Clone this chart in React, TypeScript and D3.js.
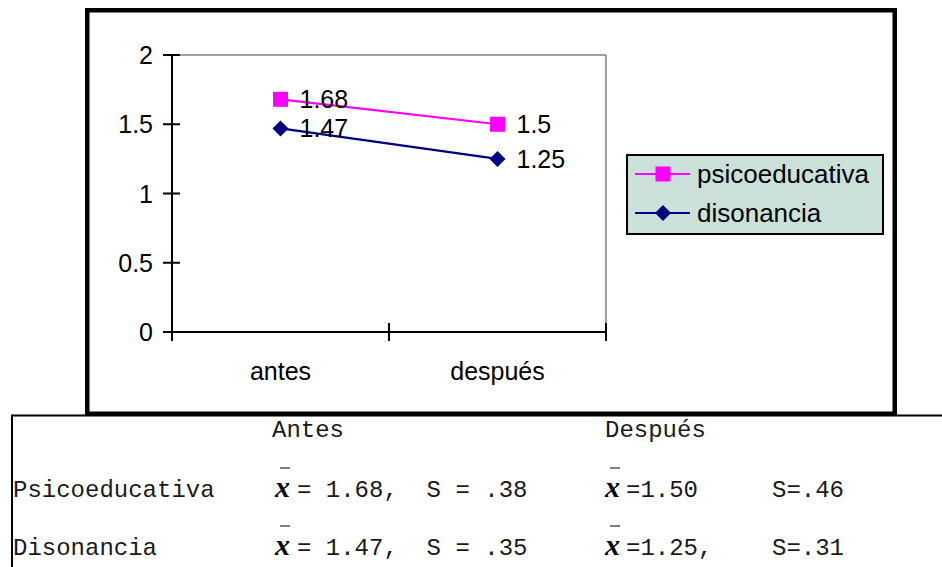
import React from "react";
import * as d3 from "d3";

const categories = ["antes", "después"];
const seriesNames = ["psicoeducativa", "disonancia"];
const psicoValues = [1.68, 1.5];
const disonValues = [1.47, 1.25];
const yTicks = [0, 0.5, 1, 1.5, 2];

const tableHeaders = ["Antes", "Después"];
const tableRows = ["Psicoeducativa", "Disonancia"];
const meanAntes = [1.68, 1.47];
const sdAntes = [0.38, 0.35];
const meanDespues = [1.5, 1.25];
const sdDespues = [0.46, 0.31];
const despuesSuffix = ["", ","];

const W = 942;
const H = 567;
const PINK = "#ff00ff";
const NAVY = "#000080";
const SANS = "'Liberation Sans', Arial, sans-serif";
const MONO = "'Liberation Mono', 'Courier New', monospace";
const SERIF = "'Liberation Serif', 'Times New Roman', serif";
const MONO_FILL = "#1a1a1a";

const plot = { left: 172, right: 606, top: 55, bottom: 332 };

const sdText = (v: number) => v.toFixed(2).replace(/^0/, "");

export default function App() {
  const xBand = d3
    .scaleBand<string>()
    .domain(categories)
    .range([plot.left, plot.right])
    .paddingInner(0)
    .paddingOuter(0);
  const xPoint = d3
    .scalePoint<string>()
    .domain(categories)
    .range([plot.left, plot.right])
    .padding(0.5);
  const y = d3.scaleLinear().domain([0, 2]).range([plot.bottom, plot.top]);

  const series = [
    { name: seriesNames[0], values: psicoValues, color: PINK, marker: "square" },
    { name: seriesNames[1], values: disonValues, color: NAVY, marker: "diamond" },
  ];

  const line = d3
    .line<number>()
    .x((_, i) => xPoint(categories[i]) as number)
    .y((d) => y(d));

  const xTickPos = [
    ...categories.map((c) => xBand(c) as number),
    plot.right,
  ];

  const marker = (kind: string, cx: number, cy: number, color: string, key?: any) =>
    kind === "square" ? (
      <rect key={key} x={cx - 7.5} y={cy - 7.5} width={15} height={15} fill={color} />
    ) : (
      <path
        key={key}
        d={`M${cx},${cy - 8} L${cx + 8},${cy} L${cx},${cy + 8} L${cx - 8},${cy} Z`}
        fill={color}
      />
    );

  const rowBase = [497, 555];

  return (
    <svg
      width={W}
      height={H}
      viewBox={`0 0 ${W} ${H}`}
      style={{ position: "absolute", left: 0, top: 0, background: "#fff" }}
    >
      <rect x={0} y={0} width={W} height={H} fill="#fff" />

      {/* plot area outline (top and right in gray) */}
      <line x1={plot.left} x2={plot.right} y1={plot.top} y2={plot.top} stroke="#808080" strokeWidth={1.5} />
      <line x1={plot.right} x2={plot.right} y1={plot.top} y2={plot.bottom} stroke="#808080" strokeWidth={1.5} />

      {/* y axis */}
      <line x1={plot.left} x2={plot.left} y1={plot.top} y2={plot.bottom} stroke="#000" strokeWidth={2} />
      {yTicks.map((t) => (
        <g key={t}>
          <line x1={plot.left - 9} x2={plot.left + 8} y1={y(t)} y2={y(t)} stroke="#000" strokeWidth={2} />
          <text
            x={153}
            y={y(t)}
            dy="0.36em"
            textAnchor="end"
            fontFamily={SANS}
            fontSize={25}
            fill="#000"
          >
            {String(t)}
          </text>
        </g>
      ))}

      {/* x axis */}
      <line x1={plot.left - 9} x2={plot.right} y1={plot.bottom} y2={plot.bottom} stroke="#000" strokeWidth={2} />
      {xTickPos.map((p, i) => (
        <line key={i} x1={p} x2={p} y1={plot.bottom - 9} y2={plot.bottom + 9} stroke="#000" strokeWidth={2} />
      ))}
      {categories.map((c) => (
        <text
          key={c}
          x={xPoint(c) as number}
          y={380}
          textAnchor="middle"
          fontFamily={SANS}
          fontSize={25}
          fill="#000"
        >
          {c}
        </text>
      ))}

      {/* series lines and markers */}
      {series.map((s) => (
        <g key={s.name}>
          <path d={line(s.values) || ""} fill="none" stroke={s.color} strokeWidth={2.2} />
          {s.values.map((v, i) =>
            marker(s.marker, xPoint(categories[i]) as number, y(v), s.color, i)
          )}
        </g>
      ))}
      {series.map((s) =>
        s.values.map((v, i) => (
          <text
            key={s.name + i}
            x={(xPoint(categories[i]) as number) + 19}
            y={y(v)}
            dy="0.36em"
            fontFamily={SANS}
            fontSize={25}
            fill="#000"
          >
            {String(v)}
          </text>
        ))
      )}

      {/* legend */}
      <rect x={627} y={155} width={256} height={79} fill="#cae0d8" stroke="#000" strokeWidth={2} />
      {series.map((s, i) => {
        const ly = 174 + i * 39;
        return (
          <g key={s.name}>
            <line x1={635} x2={690} y1={ly} y2={ly} stroke={s.color} strokeWidth={2.2} />
            {marker(s.marker, 663, ly, s.color)}
            <text x={697} y={ly} dy="0.36em" fontFamily={SANS} fontSize={26} fill="#000">
              {s.name}
            </text>
          </g>
        );
      })}

      {/* outer chart frame */}
      <rect x={87.25} y={10.25} width={807.5} height={403.5} fill="none" stroke="#000" strokeWidth={4.5} />

      {/* statistics table */}
      <line x1={11} x2={W} y1={415.5} y2={415.5} stroke="#000" strokeWidth={2} />
      <line x1={12} x2={12} y1={415} y2={H} stroke="#000" strokeWidth={2} />

      <text x={272} y={437} fontFamily={MONO} fontSize={24} fill={MONO_FILL}>
        {tableHeaders[0]}
      </text>
      <text x={605} y={437} fontFamily={MONO} fontSize={24} fill={MONO_FILL}>
        {tableHeaders[1]}
      </text>

      {tableRows.map((r, i) => {
        const b = rowBase[i];
        return (
          <g key={r}>
            <text x={13} y={b} fontFamily={MONO} fontSize={24} fill={MONO_FILL}>
              {r}
            </text>

            <line x1={280} x2={290} y1={b - 29} y2={b - 29} stroke="#000" strokeWidth={1} />
            <text x={275} y={b} fontFamily={SERIF} fontStyle="italic" fontWeight="bold" fontSize={30} fill="#000">
              x
            </text>
            <text x={297} y={b} fontFamily={MONO} fontSize={24} fill={MONO_FILL} style={{ whiteSpace: "pre" }}>
              {`= ${meanAntes[i].toFixed(2)},  S = ${sdText(sdAntes[i])}`}
            </text>

            <line x1={610} x2={620} y1={b - 29} y2={b - 29} stroke="#000" strokeWidth={1} />
            <text x={605} y={b} fontFamily={SERIF} fontStyle="italic" fontWeight="bold" fontSize={30} fill="#000">
              x
            </text>
            <text x={626} y={b} fontFamily={MONO} fontSize={24} fill={MONO_FILL} style={{ whiteSpace: "pre" }}>
              {`=${meanDespues[i].toFixed(2)}${despuesSuffix[i]}`}
            </text>
            <text x={772} y={b} fontFamily={MONO} fontSize={24} fill={MONO_FILL} style={{ whiteSpace: "pre" }}>
              {`S=${sdText(sdDespues[i])}`}
            </text>
          </g>
        );
      })}
    </svg>
  );
}
